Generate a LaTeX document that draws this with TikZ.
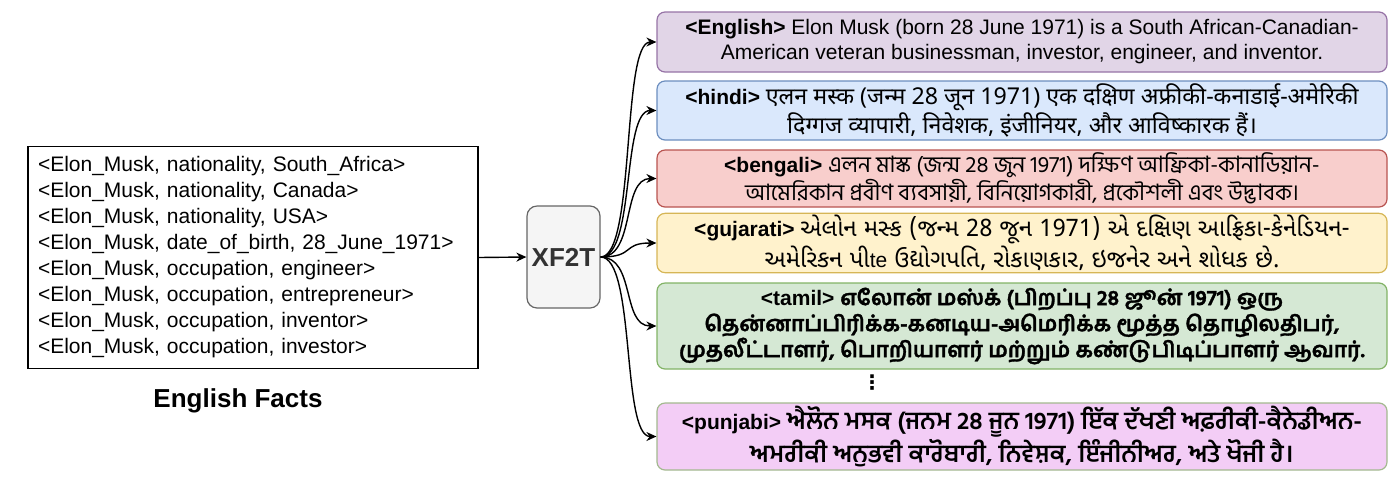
\documentclass[tikz,border=0pt]{standalone}
\usepackage{fontspec}
\usetikzlibrary{arrows.meta}
\setmainfont{Liberation Sans}
\newfontfamily\symbfont{DejaVu Sans}
\newfontfamily\hindifont[Script=Devanagari]{Noto Sans}
\newfontfamily\bengalifont[Script=Bengali]{Hind Siliguri}
\newfontfamily\gujaratifont[Script=Gujarati]{Noto Sans Gujarati UI}
\newfontfamily\tamilfont[Script=Tamil,FakeBold=1.5]{Hind Madurai}
\newfontfamily\punjabifont[Script=Gurmukhi]{Hind Jalandhar}
% script text in the right size
\newcommand\hitxt{\hindifont\fontsize{11.6}{12.5}\selectfont}
\newcommand\bntxt{\bengalifont\fontsize{11.3}{12}\selectfont}
\newcommand\gutxt{\gujaratifont\fontsize{12}{13}\selectfont}
\newcommand\tatxt{\tamilfont\fontsize{10.7}{13}\selectfont}
\newcommand\patxt{\punjabifont\fontsize{12.3}{14.5}\selectfont}

\definecolor{engfill}{HTML}{E1D5E7}\definecolor{engdraw}{HTML}{9673A6}
\definecolor{hinfill}{HTML}{DAE8FC}\definecolor{hindraw}{HTML}{6C8EBF}
\definecolor{benfill}{HTML}{F8CECC}\definecolor{bendraw}{HTML}{B85450}
\definecolor{gujfill}{HTML}{FFF2CC}\definecolor{gujdraw}{HTML}{D6B656}
\definecolor{tamfill}{HTML}{D5E8D4}\definecolor{tamdraw}{HTML}{82B366}
\definecolor{punfill}{HTML}{F3CDF6}\definecolor{pundraw}{HTML}{A3B98F}

\begin{document}
\begin{tikzpicture}[x=0.5pt,y=-0.5pt,
    outbox/.style={draw, rounded corners=4pt, line width=0.6pt, align=center,
      minimum width=365pt, inner sep=1pt, font=\fontsize{10.5}{12.5}\selectfont},
    arr/.style={-{Stealth[length=5pt,width=4.5pt]}, line width=0.7pt}]
    \useasboundingbox (0,0) rectangle (1400,489);
    % Input facts
    \node[draw, line width=0.6pt, minimum width=225pt, minimum height=110.5pt,
      text width=215pt, align=left, inner sep=5pt,
      font=\fontsize{10.5}{13}\selectfont] (facts) at (253,257.5)
      {<Elon\_Musk, nationality, South\_Africa>\\
       <Elon\_Musk, nationality, Canada>\\
       <Elon\_Musk, nationality, USA>\\
       <Elon\_Musk, date\_of\_birth, 28\_June\_1971>\\
       <Elon\_Musk, occupation, engineer>\\
       <Elon\_Musk, occupation, entrepreneur>\\
       <Elon\_Musk, occupation, inventor>\\
       <Elon\_Musk, occupation, investor>};
    \node[font=\fontsize{13}{15}\selectfont\bfseries] (factslabel) at (238,401) {English Facts};
    % Model
    \node[draw=black!60, fill=black!4, rounded corners=5pt, line width=0.6pt,
      minimum width=36.5pt, minimum height=51pt, inner sep=0pt, text=black!80,
      font=\fontsize{13}{15}\selectfont\bfseries] (xf2t) at (563.5,257) {XF2T};
    % Outputs
    \node[outbox, fill=engfill, draw=engdraw, minimum height=30pt] (english) at (1022,42)
      {\textbf{<English>} Elon Musk (born 28 June 1971) is a South African-Canadian-\\
       American veteran businessman, investor, engineer, and inventor.};
    \node[outbox, fill=hinfill, draw=hindraw, minimum height=29.5pt] (hindi) at (1022,110.5)
      {\textbf{<hindi>} \hitxt एलन मस्क (जन्म 28 जून 1971) एक दक्षिण अफ्रीकी-कनाडाई-अमेरिकी\\
       \hitxt दिग्गज व्यापारी, निवेशक, इंजीनियर, और आविष्कारक हैं।};
    \node[outbox, fill=benfill, draw=bendraw, minimum height=28.5pt] (bengali) at (1022,178.5)
      {\textbf{<bengali>} \bntxt এলন মাস্ক (জন্ম 28 জুন 1971) দক্ষিণ আফ্রিকা-কানাডিয়ান-\\
       \bntxt আমেরিকান প্রবীণ ব্যবসায়ী, বিনিয়োগকারী, প্রকৌশলী এবং উদ্ভাবক।};
    \node[outbox, fill=gujfill, draw=gujdraw, minimum height=29pt] (gujarati) at (1022,243)
      {\textbf{<gujarati>} \gutxt એલોન મસ્ક (જન્મ 28 જૂન 1971) એ દક્ષિણ આફ્રિકા-કેનેડિયન-\\
       \gutxt અમેરિકન પી{\rmfamily\fontsize{10.5}{13}\selectfont te} ઉદ્યોગપતિ, રોકાણકાર, ઇજનેર અને શોધક છે.};
    \node[outbox, fill=tamfill, draw=tamdraw, minimum height=43pt,
      font=\fontsize{10.5}{13}\selectfont\bfseries] (tamil) at (1022,326)
      {\textbf{<tamil>} \tatxt எலோன் மஸ்க் (பிறப்பு 28 ஜூன் 1971) ஒரு\\
       \tatxt தென்னாப்பிரிக்க-கனடிய-அமெரிக்க மூத்த தொழிலதிபர்,\\
       \tatxt முதலீட்டாளர், பொறியாளர் மற்றும் கண்டுபிடிப்பாளர் ஆவார்.};
    \node[font=\symbfont\bfseries] (etc) at (872,383) {⋮};
    \node[outbox, fill=punfill, draw=pundraw, minimum height=33.5pt,
      font=\fontsize{10.5}{13}\selectfont\bfseries] (punjabi) at (1022,436.5)
      {\textbf{<punjabi>} \patxt ਐਲੋਨ ਮਸਕ (ਜਨਮ 28 ਜੂਨ 1971) ਇੱਕ ਦੱਖਣੀ ਅਫ਼ਰੀਕੀ-ਕੈਨੇਡੀਅਨ-\\
       \patxt ਅਮਰੀਕੀ ਅਨੁਭਵੀ ਕਾਰੋਬਾਰੀ, ਨਿਵੇਸ਼ਕ, ਇੰਜੀਨੀਅਰ, ਅਤੇ ਖੋਜੀ ਹੈ।};
    % Connections
    \draw[arr] (facts.east) -- (xf2t.west);
    \foreach \lang in {english,hindi,bengali,gujarati,tamil,punjabi}
      \draw[arr] (xf2t.east) .. controls +(35,0) and +(-35,0) .. (\lang.west);
\end{tikzpicture}
\end{document}
